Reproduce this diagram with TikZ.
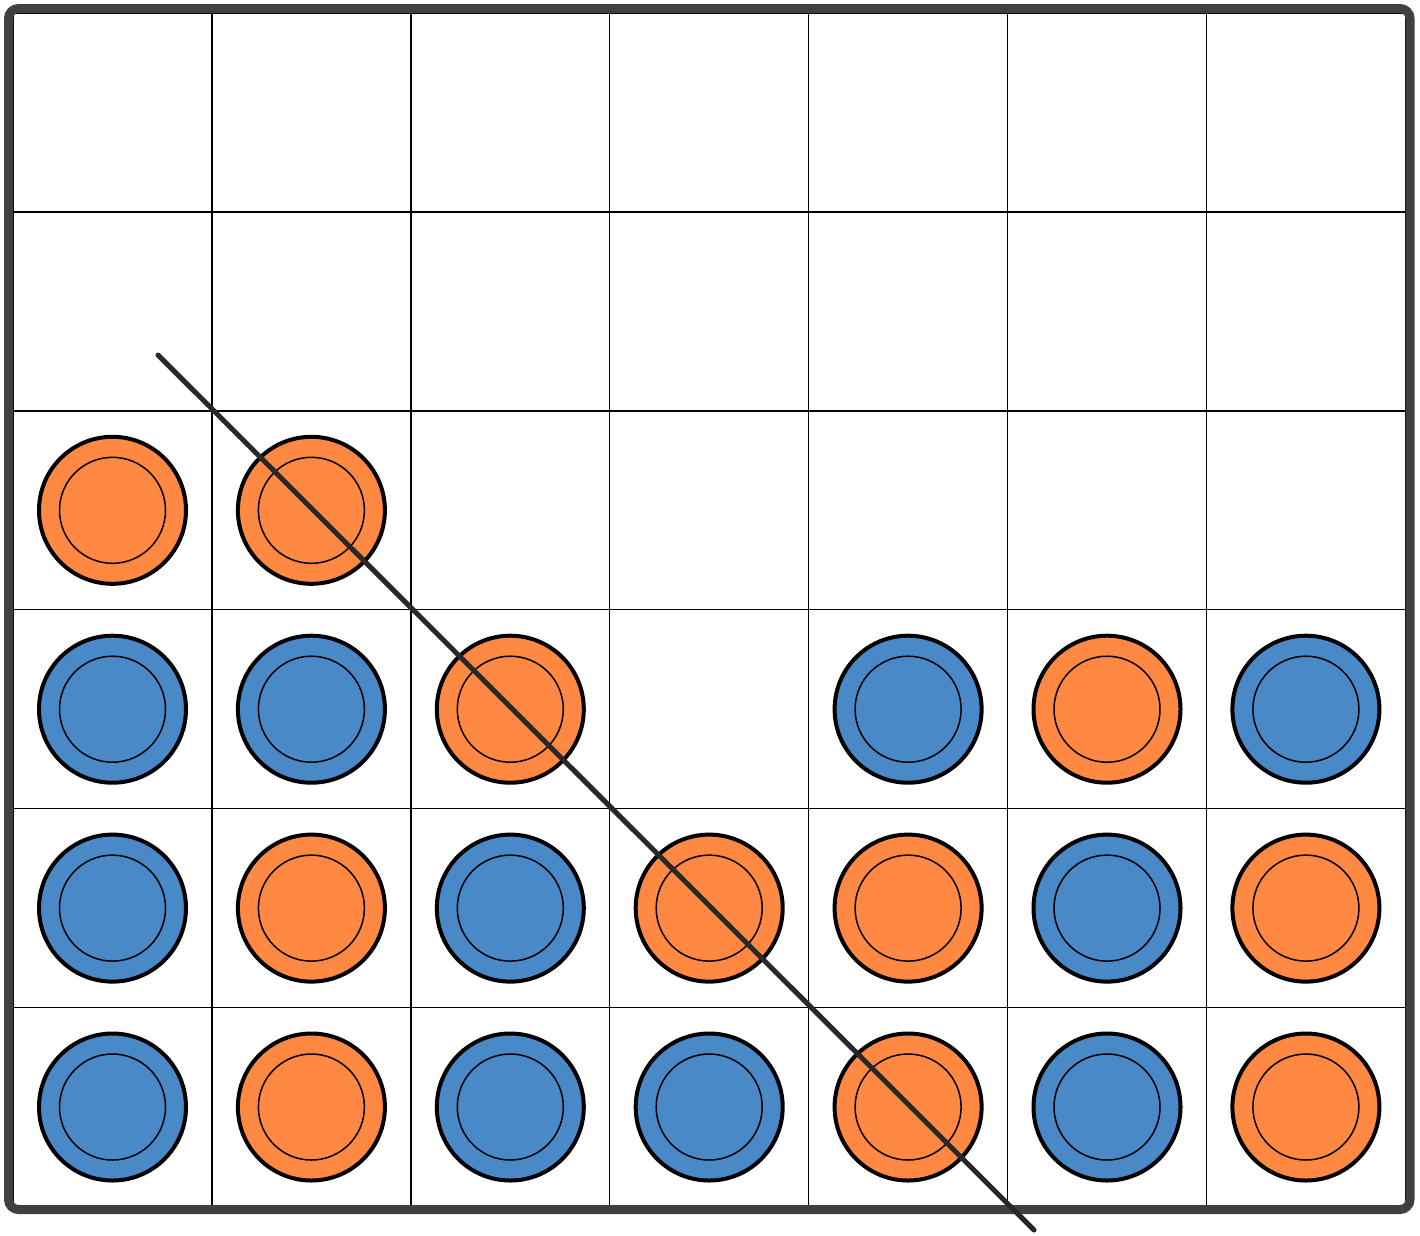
\documentclass[tikz,border=0pt]{standalone}
\definecolor{piecered}{RGB}{255,137,66}
\definecolor{pieceblue}{RGB}{74,137,199}
\definecolor{frame}{RGB}{64,64,64}
\definecolor{winline}{RGB}{40,40,40}
\tikzset{
  gridline/.style={black, line width=1.5pt},
  piece/.style={circle, draw=black, line width=4pt, minimum size=147pt, inner sep=0pt},
  ring/.style={circle, draw=black, line width=1.5pt, minimum size=106pt, inner sep=0pt},
}
\begin{document}
\begin{tikzpicture}[x=1pt,y=-1pt]
\useasboundingbox (0,0) rectangle (1420,1235);
\fill[white] (13,13) rectangle (1406,1206);
\foreach \i in {0,...,7} \draw[gridline] ({13+198.9*\i},13) -- ({13+198.9*\i},1206);
\foreach \j in {0,...,6} \draw[gridline] (13,{13+198.9*\j}) -- (1406,{13+198.9*\j});
\draw[frame, line width=9pt, rounded corners=10pt] (8.5,8.5) rectangle (1410,1209.5);
\foreach \c/\r/\col [count=\n] in {
  0/2/piecered, 1/2/piecered,
  0/3/pieceblue, 1/3/pieceblue, 2/3/piecered, 4/3/pieceblue, 5/3/piecered, 6/3/pieceblue,
  0/4/pieceblue, 1/4/piecered, 2/4/pieceblue, 3/4/piecered, 4/4/piecered, 5/4/pieceblue, 6/4/piecered,
  0/5/pieceblue, 1/5/piecered, 2/5/pieceblue, 3/5/pieceblue, 4/5/piecered, 5/5/pieceblue, 6/5/piecered}
{
  \node[piece, fill=\col] (p\n) at ({112.5+198.9*\c},{112.5+198.9*\r}) {};
  \node[ring] (q\n) at (p\n) {};
}
\coordinate (ls) at (158,355);
\coordinate (le) at (1034,1230);
\draw[winline, line width=5pt, line cap=round] (ls) -- (le);
\end{tikzpicture}
\end{document}
